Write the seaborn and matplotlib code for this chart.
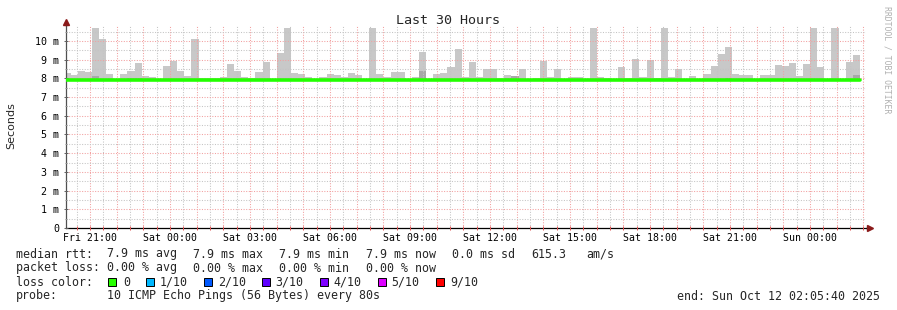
import numpy as np
import pandas as pd
import matplotlib
matplotlib.use("Agg")
import matplotlib.pyplot as plt
import seaborn as sns

# ---------------- data ----------------
# smoke (max of pings) per 16-minute bin, ms
smoke_top = [8.30, 8.20, 8.41, 8.36, 10.71, 10.10, 8.24, 7.93, 8.24, 8.38,
             8.82, 8.13, 8.08, 7.93, 8.68, 8.95, 8.41, 8.13, 10.10, 8.03,
             8.00, 8.00, 8.09, 8.79, 8.41, 8.07, 8.00, 8.34, 8.89, 7.93,
             9.38, 10.71, 8.30, 8.24, 8.07, 7.93, 8.07, 8.24, 8.18, 8.07,
             8.30, 8.18, 7.93, 10.68, 8.24, 8.07, 8.34, 8.34, 7.93, 8.10,
             9.43, 7.93, 8.24, 8.30, 8.63, 9.57, 8.07, 8.89, 8.07, 8.48,
             8.52, 8.02, 8.18, 8.13, 8.52, 7.93, 8.00, 8.95, 8.10, 8.52,
             7.93, 8.10, 8.07, 7.93, 10.68, 8.07, 8.02, 7.93, 8.63, 8.02,
             9.04, 8.07, 8.97, 8.02, 10.70, 8.07, 8.50, 7.93, 8.13, 7.93,
             8.24, 8.66, 9.30, 9.68, 8.24, 8.18, 8.18, 7.93, 8.18, 8.18,
             8.72, 8.66, 8.82, 8.13, 8.79, 10.70, 8.61, 7.93, 10.70, 7.93,
             8.88, 9.25]
# darker inner smoke (upper quartile) per bin, ms
smoke_inner = [7.95, 7.95, 7.95, 7.95, 8.13, 7.97, 7.95, 7.93, 7.95, 8.02,
               8.00, 7.95, 7.95, 7.93, 7.95, 7.95, 7.95, 7.95, 7.97, 7.95,
               7.95, 7.95, 7.95, 7.95, 7.95, 7.95, 7.95, 7.95, 7.95, 7.93,
               7.97, 7.97, 7.95, 7.95, 7.95, 7.93, 7.95, 7.95, 7.95, 7.95,
               7.95, 7.95, 7.93, 7.97, 7.95, 7.95, 7.95, 7.95, 7.93, 7.95,
               8.37, 7.93, 7.95, 7.95, 7.95, 7.95, 7.95, 7.95, 7.95, 7.95,
               7.95, 7.95, 8.00, 8.15, 7.95, 7.93, 7.95, 7.95, 7.95, 7.95,
               7.93, 7.95, 7.95, 7.93, 7.97, 7.95, 7.95, 7.93, 7.95, 7.95,
               7.95, 7.95, 7.95, 8.00, 7.97, 7.95, 7.95, 7.93, 7.95, 7.93,
               7.95, 7.95, 7.95, 8.00, 7.95, 7.95, 7.95, 7.93, 7.95, 7.95,
               7.95, 7.95, 7.95, 7.95, 7.95, 7.97, 7.95, 7.93, 7.97, 7.93,
               7.95, 8.18]
# median rtt per bin, ms
median_rtt = [7.90, 7.91, 7.90, 7.90, 7.90, 7.90, 7.91, 7.91, 7.91, 7.91,
              7.90, 7.90, 7.90, 7.90, 7.90, 7.90, 7.90, 7.90, 7.90, 7.90,
              7.90, 7.90, 7.90, 7.90, 7.90, 7.90, 7.90, 7.90, 7.90, 7.90,
              7.90, 7.90, 7.89, 7.89, 7.90, 7.90, 7.90, 7.90, 7.89, 7.89,
              7.90, 7.90, 7.90, 7.90, 7.90, 7.90, 7.90, 7.90, 7.90, 7.90,
              7.89, 7.89, 7.90, 7.90, 7.90, 7.90, 7.90, 7.90, 7.90, 7.90,
              7.90, 7.90, 7.90, 7.90, 7.90, 7.90, 7.90, 7.90, 7.90, 7.90,
              7.90, 7.90, 7.90, 7.89, 7.89, 7.90, 7.90, 7.89, 7.90, 7.90,
              7.90, 7.90, 7.90, 7.90, 7.90, 7.90, 7.90, 7.90, 7.90, 7.90,
              7.90, 7.90, 7.90, 7.90, 7.90, 7.90, 7.90, 7.90, 7.90, 7.90,
              7.90, 7.90, 7.90, 7.90, 7.90, 7.90, 7.90, 7.90, 7.90, 7.90,
              7.90, 7.91]
x_labels = ["Fri 21:00", "Sat 00:00", "Sat 03:00", "Sat 06:00", "Sat 09:00",
            "Sat 12:00", "Sat 15:00", "Sat 18:00", "Sat 21:00", "Sun 00:00"]
y_ticks = [0, 1, 2, 3, 4, 5, 6, 7, 8, 9, 10]
loss_labels = ["0", "1/10", "2/10", "3/10", "4/10", "5/10", "9/10"]
loss_colors = ["#26ff00", "#00b8ff", "#0059ff", "#5e00ff", "#7e00ff", "#dd00ff", "#ff0000"]
rtt_stats = ["7.9 ms avg", "7.9 ms max", "7.9 ms min", "7.9 ms now", "0.0 ms sd"]
loss_stats = ["0.00 % avg", "0.00 % max", "0.00 % min", "0.00 % now"]

# ---------------- geometry ----------------
W, H = 897, 310
SPAN = 30.0                    # hours shown
BIN = 16 / 60                  # 16 min bins
FIRST_EDGE = 10 / 60 + 20 / 3600   # first bin boundary after start (20:05:40 -> 20:16)
FIRST_LABEL = 0.9056           # Fri 21:00 in hours from start

n = len(smoke_top)
edges = np.concatenate([[0.0], FIRST_EDGE + BIN * np.arange(n)])
left = edges[:-1]
width = np.diff(edges)
df = pd.DataFrame({"left": left, "width": width, "top": smoke_top,
                   "inner": smoke_inner, "median": median_rtt})

sns.set_theme(style="white")
plt.rcParams["font.family"] = ["DejaVu Sans Mono", "DejaVu Sans"]

fig = plt.figure(figsize=(W / 100, H / 100), dpi=100)
fig.patch.set_facecolor("white")
ax = fig.add_axes([66 / W, (H - 228) / H, 800 / W, 202 / H])
ax.set_facecolor("white")

BASE = 7.86
ax.bar(df["left"], df["top"] - BASE, width=df["width"], bottom=BASE, align="edge",
       color="#c8c8c8", linewidth=0, zorder=1)
ax.bar(df["left"], df["inner"] - BASE, width=df["width"], bottom=BASE, align="edge",
       color="#a8a8a8", linewidth=0, zorder=1.5)

# median line as steps
step_x = list(df["left"]) + [edges[-1]]
step_y = list(df["median"]) + [median_rtt[-1]]
sns.lineplot(x=step_x, y=step_y, ax=ax, drawstyle="steps-post", color="#22ff00",
             linewidth=2.6, zorder=4, estimator=None, sort=False)

ax.set_xlim(0, SPAN)
ax.set_ylim(0, 10.8)

# ticks / grid
hours = FIRST_LABEL + np.arange(-1, 30)
hours = hours[(hours > 0) & (hours < SPAN)]
ax.set_xticks(hours)
lab = []
for h in hours:
    k = int(round(h - FIRST_LABEL))
    lab.append(x_labels[k // 3] if (k % 3 == 0 and k >= 0 and k // 3 < len(x_labels)) else "")
ax.set_xticklabels(lab, fontsize=7.1, family="DejaVu Sans Mono")
halfh = np.concatenate([hours - 0.5, [hours[-1] + 0.5]])
halfh = halfh[(halfh > 0) & (halfh < SPAN)]
ax.set_xticks(halfh, minor=True)

ax.set_yticks(y_ticks)
ax.set_yticklabels([("%d m" % v) if v else "0" for v in y_ticks], fontsize=7.2,
                   family="DejaVu Sans Mono")
ax.set_yticks(list(np.array(y_ticks[:-1]) + 0.5) + [10.5], minor=True)

ax.grid(True, which="major", color="#f2a0a0", linestyle=(0, (1, 1.5)), linewidth=0.75, zorder=3)
ax.grid(True, which="minor", color="#c4c4c4", linestyle=(0, (1, 1.5)), linewidth=0.75, zorder=3)
ax.set_axisbelow(False)
for gl in ax.get_xgridlines() + ax.get_ygridlines():
    gl.set_zorder(3)

ax.tick_params(axis="x", which="both", direction="inout", length=3, width=0.7,
               color="#e05050", pad=2, labelcolor="black", bottom=True)
ax.tick_params(axis="y", which="major", direction="inout", length=3, width=0.7,
               color="#606060", pad=3.5, labelcolor="black", left=True)
ax.tick_params(axis="y", which="minor", direction="inout", length=2, width=0.7,
               color="#909090", left=True)

for s in ["top", "right"]:
    ax.spines[s].set_visible(False)
ax.spines["left"].set_color("#505050")
ax.spines["left"].set_linewidth(0.9)
ax.spines["bottom"].set_color("black")
ax.spines["bottom"].set_linewidth(0.9)

# axis arrows
ax.plot([0, 0], [1.0, 1.015], transform=ax.transAxes, color="#505050", lw=0.9, clip_on=False)
ax.plot([1.0, 1.004], [0, 0], transform=ax.transAxes, color="black", lw=0.9, clip_on=False)
ax.plot([0], [1.022], transform=ax.transAxes, marker="^", color="#8b1a1a", ms=4,
        clip_on=False, zorder=6)
ax.plot([1.005], [0], transform=ax.transAxes, marker=">", color="#8b1a1a", ms=4,
        clip_on=False, zorder=6)

ax.set_xlabel("")
ax.set_ylabel("")


def ftext(x, y, s, **kw):
    kw.setdefault("fontsize", 8.4)
    kw.setdefault("family", "DejaVu Sans Mono")
    kw.setdefault("va", "center")
    kw.setdefault("ha", "left")
    fig.text(x / W, 1 - y / H, s, **kw)


ftext(448, 20, "Last 30 Hours", fontsize=9.6, ha="center")
ftext(11, 126, "Seconds", fontsize=8, family="DejaVu Sans", rotation=90, ha="center")
ftext(887, 60, "RRDTOOL / TOBI OETIKER", fontsize=5.9, rotation=270, ha="center",
      color="#b0b0b0")

cols = [107.3, 193.3, 279.3, 365.7, 451.7]
ftext(16, 254, "median rtt:")
for c, s in zip(cols, rtt_stats):
    ftext(c, 254, s)
ftext(531, 254, "615.3")
ftext(586, 254, "am/s")
ftext(16, 268, "packet loss:")
for c, s in zip(cols, loss_stats):
    ftext(c, 268, s)
ftext(16, 282, "loss color:")
box_x = [108, 146, 204, 261.7, 320, 377.7, 435.7]
lab_x = [123, 160, 217.7, 275.7, 333.3, 391.7, 450]
for bx, lx, c, s in zip(box_x, lab_x, loss_colors, loss_labels):
    fig.patches.append(plt.Rectangle((bx / W, 1 - 286 / H), 8 / W, 8 / H,
                                     transform=fig.transFigure, facecolor=c,
                                     edgecolor="black", linewidth=0.7))
    ftext(lx, 282, s)
ftext(16, 296, "probe:")
ftext(107.3, 296, "10 ICMP Echo Pings (56 Bytes) every 80s")
ftext(880, 296, "end: Sun Oct 12 02:05:40 2025", ha="right")

fig.savefig("out.png", dpi=100, facecolor="white")
